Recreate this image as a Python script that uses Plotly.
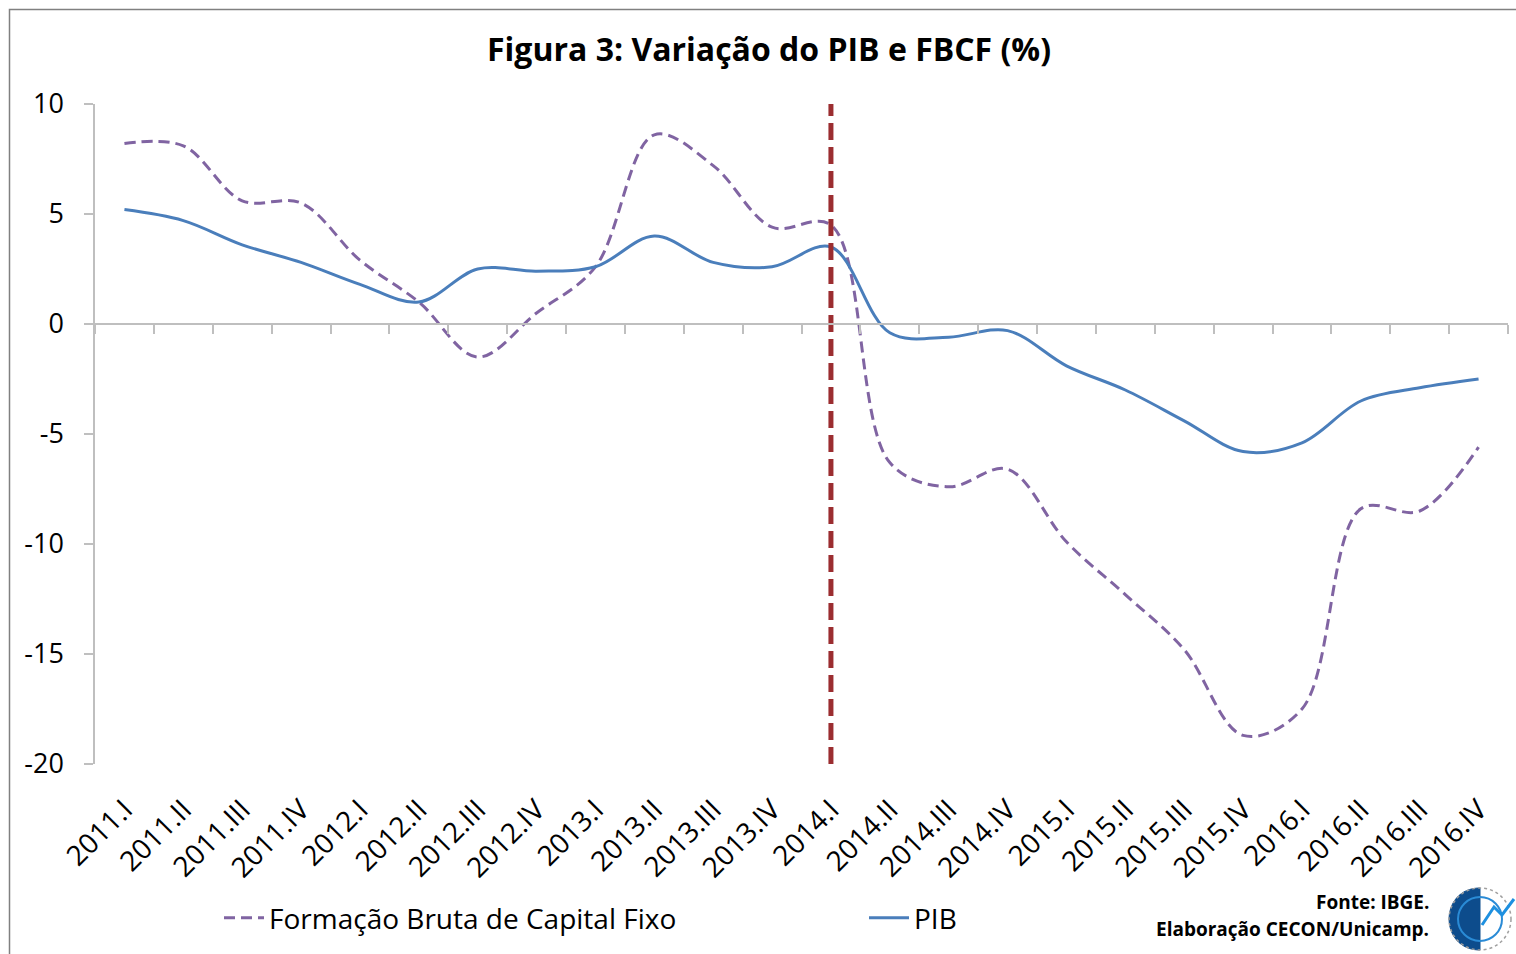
import plotly.graph_objects as go

quarters = ["2011.I", "2011.II", "2011.III", "2011.IV",
            "2012.I", "2012.II", "2012.III", "2012.IV",
            "2013.I", "2013.II", "2013.III", "2013.IV",
            "2014.I", "2014.II", "2014.III", "2014.IV",
            "2015.I", "2015.II", "2015.III", "2015.IV",
            "2016.I", "2016.II", "2016.III", "2016.IV"]
fbcf = [8.2, 8.1, 5.6, 5.5,
        2.9, 1.0, -1.5, 0.5,
        2.6, 8.6, 7.2, 4.4,
        4.5, -6.3, -7.4, -6.6,
        -9.9, -12.3, -14.8, -18.7,
        -17.5, -8.4, -8.5, -5.6]
pib = [5.2, 4.7, 3.6, 2.8,
       1.8, 1.0, 2.5, 2.4,
       2.6, 4.0, 2.8, 2.6,
       3.5, -0.4, -0.6, -0.3,
       -1.9, -3.0, -4.4, -5.8,
       -5.4, -3.5, -2.9, -2.5]
marker_quarter = "2014.I"
y_ticks = [-20, -15, -10, -5, 0, 5, 10]
y_ticktext = ["-20", "-15", "-10", "-5", "0", "5", "10"]
y_range = [-20, 10]

FONT = "Open Sans, Carlito, Calibri, sans-serif"
GRAY = "#BFBFBF"

W, H = 1516, 954
L, R, T, B = 95, 8, 104, 190
PW, PH = W - L - R, H - T - B


def px_x(px):
    return (px - L) / PW


def px_y(py):
    return (H - B - py) / PH


fig = go.Figure()
fig.add_trace(go.Scatter(
    x=quarters, y=fbcf, mode="lines", name="Formação Bruta de Capital Fixo",
    line=dict(color="#8064A2", width=3, dash="11px,6px", shape="spline", smoothing=1),
))
fig.add_trace(go.Scatter(
    x=quarters, y=pib, mode="lines", name="PIB",
    line=dict(color="#4A7EBB", width=3, shape="spline", smoothing=1),
))
fig.add_trace(go.Scatter(
    x=[marker_quarter, marker_quarter], y=y_range, mode="lines", showlegend=False,
    line=dict(color="#9B2D30", width=5, dash="17px,7px"), hoverinfo="skip",
))
# helper trace for the zero-crossing category axis
fig.add_trace(go.Scatter(
    x=quarters, y=pib, xaxis="x2", mode="lines", showlegend=False,
    line=dict(width=0, color="rgba(0,0,0,0)"), hoverinfo="skip",
))

fig.update_layout(
    width=W, height=H,
    margin=dict(l=L, r=R, t=T, b=B, autoexpand=False),
    paper_bgcolor="white", plot_bgcolor="white",
    font=dict(family=FONT, color="black"),
    title=dict(text="<b>Figura 3: Variação do PIB e FBCF (%)</b>",
               x=769 / W, xanchor="center", y=1 - 50 / H, yanchor="middle",
               font=dict(size=32, family=FONT, color="black")),
    xaxis=dict(type="category", categoryorder="array", categoryarray=quarters,
               range=[-0.5, len(quarters) - 0.5], showline=False, showgrid=False,
               zeroline=False, tickangle=-45, tickfont=dict(size=28),
               ticks="outside", ticklen=17, tickcolor="rgba(0,0,0,0)", automargin=False),
    xaxis2=dict(type="category", categoryorder="array", categoryarray=quarters,
                range=[-0.5, len(quarters) - 0.5], overlaying="x", anchor="free",
                position=(0 - y_range[0]) / (y_range[1] - y_range[0]),
                showline=True, linecolor=GRAY, linewidth=1.5, showgrid=False,
                ticks="outside", tickson="boundaries", ticklen=9, tickcolor=GRAY,
                tickwidth=1.5, showticklabels=False, automargin=False),
    yaxis=dict(range=y_range, tickvals=y_ticks, ticktext=y_ticktext, showline=True,
               linecolor=GRAY, linewidth=1.5, ticks="outside", ticklen=9, tickcolor=GRAY,
               tickwidth=1.5, showgrid=False, zeroline=False, tickfont=dict(size=27),
               ticklabelstandoff=15, automargin=False),
    legend=dict(orientation="h", x=px_x(219), xanchor="left",
                y=px_y(918), yanchor="middle", font=dict(size=28, family=FONT),
                entrywidth=590, entrywidthmode="pixels", bgcolor="rgba(0,0,0,0)",
                itemwidth=40),
    showlegend=True,
)

fig.add_annotation(xref="paper", yref="paper", x=px_x(1431), y=px_y(902),
                   xanchor="right", yanchor="middle", showarrow=False,
                   text="<b>Fonte: IBGE.</b>", font=dict(size=19, family=FONT))
fig.add_annotation(xref="paper", yref="paper", x=px_x(1431), y=px_y(929),
                   xanchor="right", yanchor="middle", showarrow=False,
                   text="<b>Elaboração CECON/Unicamp.</b>", font=dict(size=19, family=FONT))

# outer frame
fig.add_shape(type="rect", xref="paper", yref="paper",
              x0=px_x(9.5), x1=px_x(1530), y0=px_y(970), y1=px_y(9.5),
              line=dict(color="#808080", width=1.5), fillcolor="rgba(0,0,0,0)", layer="below")

# logo (approximation): dark-blue half globe with a small rising line
cx, cy, r = 1480, 919, 31
lx = lambda v: px_x(v)
ly = lambda v: px_y(v)
half = (f"M {lx(cx)} {ly(cy - r)} "
        f"C {lx(cx - 1.33 * r)} {ly(cy - r)} {lx(cx - 1.33 * r)} {ly(cy + r)} {lx(cx)} {ly(cy + r)} Z")
fig.add_shape(type="path", xref="paper", yref="paper", path=half,
              fillcolor="#0D4C8C", line=dict(color="#0D4C8C", width=1))
fig.add_shape(type="circle", xref="paper", yref="paper",
              x0=lx(cx - r), x1=lx(cx + r), y0=ly(cy + r), y1=ly(cy - r),
              line=dict(color="#A0A0A0", width=1.5, dash="dot"), fillcolor="rgba(0,0,0,0)")
fig.add_shape(type="circle", xref="paper", yref="paper",
              x0=lx(cx - 22), x1=lx(cx + 22), y0=ly(cy + 22), y1=ly(cy - 22),
              line=dict(color="#2A8BD6", width=2), fillcolor="rgba(0,0,0,0)")
zig = (f"M {lx(cx + 2)} {ly(cy + 6)} L {lx(cx + 14)} {ly(cy - 12)} "
       f"L {lx(cx + 22)} {ly(cy - 4)} L {lx(cx + 34)} {ly(cy - 20)}")
fig.add_shape(type="path", xref="paper", yref="paper", path=zig,
              line=dict(color="#1E90E0", width=3))

fig.write_html("out.html", config={"displayModeBar": False},
               post_script="document.body.style.margin='0';document.body.style.overflow='hidden';")
